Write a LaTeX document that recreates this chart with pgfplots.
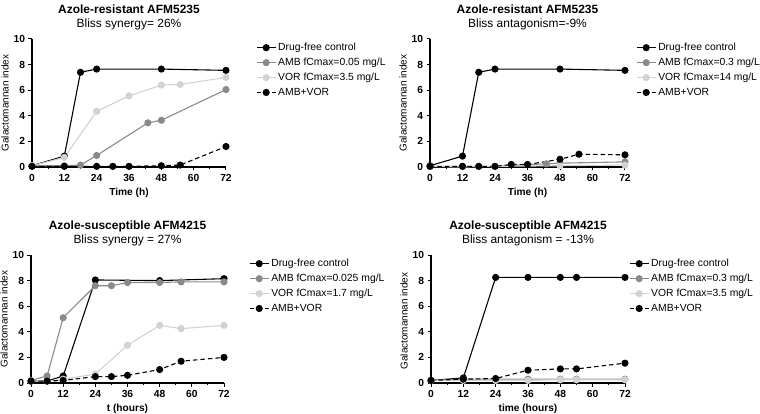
\documentclass[border=0pt]{standalone}
\usepackage{pgfplots}
\pgfplotsset{compat=1.18}
\usepackage{fontspec}
\setmainfont{Liberation Sans}
\definecolor{ambgray}{HTML}{8A8A8A}
\definecolor{vorgray}{HTML}{D2D2D2}
\pgfplotsset{gp/.style={
  scale only axis, height=128bp,
  xmin=0,xmax=72, ymin=0,ymax=10,
  xtick={0,12,...,72}, ytick={0,2,...,10},
  minor x tick num=1,
  axis lines=left, axis line style={-, line width=1.2pt},
  tick align=outside, major tick length=3.5bp, minor tick length=2bp,
  tick style={line width=1pt, black},
  every tick label/.append style={font=\fontsize{10.3}{11}\selectfont\bfseries},
  /pgf/number format/assume math mode=true,
  label style={font=\fontsize{10.2}{12}\selectfont\bfseries},
  ylabel={Galactomannan index},
  every axis y label/.style={at={(axis description cs:0,0.5)}, xshift=-27bp, rotate=90, anchor=center},
  title style={align=center, font=\fontsize{12}{14}\selectfont},
  legend style={draw=none, fill=none, anchor=north west,
    font=\fontsize{10.4}{12.5}\selectfont, row sep=2pt},
  legend cell align=left,
  legend image code/.code={\draw[mark repeat=2,mark phase=2,##1] plot coordinates {(0bp,0bp) (9.5bp,0bp) (19bp,0bp)};},
  clip=false,
  every axis plot/.append style={line width=1.1pt, mark=*, mark size=3bp},
},
ctrl/.style={black, solid},
amb/.style={ambgray, solid, mark options={fill=ambgray}},
vor/.style={vorgray, solid, mark options={fill=vorgray}},
combo/.style={black, dash pattern=on 4.5pt off 3pt, mark options={solid, fill=black}},
}
\begin{document}
\begin{tikzpicture}
\useasboundingbox (0,0) rectangle (760bp,414bp);
% Top-left
\begin{axis}[gp, width=194bp, at={(32bp,247bp)}, anchor=south west,
  title={\textbf{Azole-resistant AFM5235}\\Bliss synergy= 26\%},
  xlabel={Time (h)}, legend style={at={(1.139,1.0)}}]
\addplot[ctrl] coordinates {(0,0.1)(12,0.85)(18,7.4)(24,7.65)(48,7.65)(72,7.55)};
\addplot[amb] coordinates {(0,0.1)(12,0.1)(18,0.15)(24,0.9)(43,3.45)(48,3.65)(72,6.05)};
\addplot[vor] coordinates {(0,0.1)(12,0.75)(24,4.35)(36,5.55)(48,6.4)(55,6.45)(72,7.0)};
\addplot[combo] coordinates {(0,0.05)(12,0.05)(24,0.05)(30,0.05)(36,0.05)(48,0.1)(55,0.15)(72,1.6)};
\legend{Drug-free control, AMB fCmax=0.05 mg/L, VOR fCmax=3.5 mg/L, AMB+VOR}
\end{axis}
% Top-right
\begin{axis}[gp, width=195bp, at={(430bp,247bp)}, anchor=south west,
  title={\textbf{Azole-resistant AFM5235}\\Bliss antagonism=-9\%},
  xlabel={Time (h)}, legend style={at={(1.041,1.0)}}]
\addplot[ctrl] coordinates {(0,0.1)(12,0.85)(18,7.4)(24,7.65)(48,7.65)(72,7.55)};
\addplot[amb] coordinates {(0,0.05)(12,0.05)(18,0.05)(24,0.05)(43,0.25)(48,0.3)(72,0.4)};
\addplot[vor] coordinates {(0,0.05)(12,0.0)(18,0.05)(24,0.05)(48,0.1)(72,0.15)};
\addplot[combo] coordinates {(0,0.05)(12,0.05)(18,0.05)(24,0.05)(30,0.2)(36,0.2)(48,0.6)(55,1.0)(72,0.95)};
\legend{Drug-free control, AMB fCmax=0.3 mg/L, VOR fCmax=14 mg/L, AMB+VOR}
\end{axis}
% Bottom-left
\begin{axis}[gp, width=193bp, at={(31bp,31bp)}, anchor=south west,
  title={\textbf{Azole-susceptible AFM4215}\\Bliss synergy = 27\%},
  xlabel={t (hours)}, legend style={at={(1.114,1.0)}}]
\addplot[ctrl] coordinates {(0,0.15)(6,0.15)(12,0.55)(24,8.05)(48,8.0)(72,8.15)};
\addplot[amb] coordinates {(0,0.2)(6,0.55)(12,5.1)(24,7.6)(30,7.6)(36,7.85)(48,7.85)(56,7.9)(72,7.9)};
\addplot[vor] coordinates {(0,0.15)(6,0.15)(12,0.3)(24,0.7)(36,2.95)(48,4.5)(56,4.25)(72,4.5)};
\addplot[combo] coordinates {(0,0.15)(6,0.15)(12,0.2)(24,0.5)(30,0.5)(36,0.6)(48,1.05)(56,1.7)(72,2.0)};
\legend{Drug-free control, AMB fCmax=0.025 mg/L, VOR fCmax=1.7 mg/L, AMB+VOR}
\end{axis}
% Bottom-right
\begin{axis}[gp, width=194bp, at={(431bp,31bp)}, anchor=south west,
  title={\textbf{Azole-susceptible AFM4215}\\Bliss antagonism = -13\%},
  xlabel={time (hours)}, legend style={at={(1.005,1.0)}}, every axis y label/.append style={xshift=-2bp}]
\addplot[ctrl] coordinates {(0,0.2)(12,0.4)(24,8.25)(36,8.25)(48,8.25)(54,8.25)(72,8.25)};
\addplot[amb] coordinates {(0,0.2)(12,0.3)(24,0.3)(36,0.3)(48,0.3)(54,0.3)(72,0.3)};
\addplot[vor] coordinates {(0,0.2)(12,0.2)(24,0.2)(36,0.2)(48,0.25)(54,0.25)(72,0.25)};
\addplot[combo] coordinates {(0,0.2)(12,0.3)(24,0.35)(36,1.0)(48,1.1)(54,1.1)(72,1.55)};
\legend{Drug-free control, AMB fCmax=0.3 mg/L, VOR fCmax=3.5 mg/L, AMB+VOR}
\end{axis}
\end{tikzpicture}
\end{document}
